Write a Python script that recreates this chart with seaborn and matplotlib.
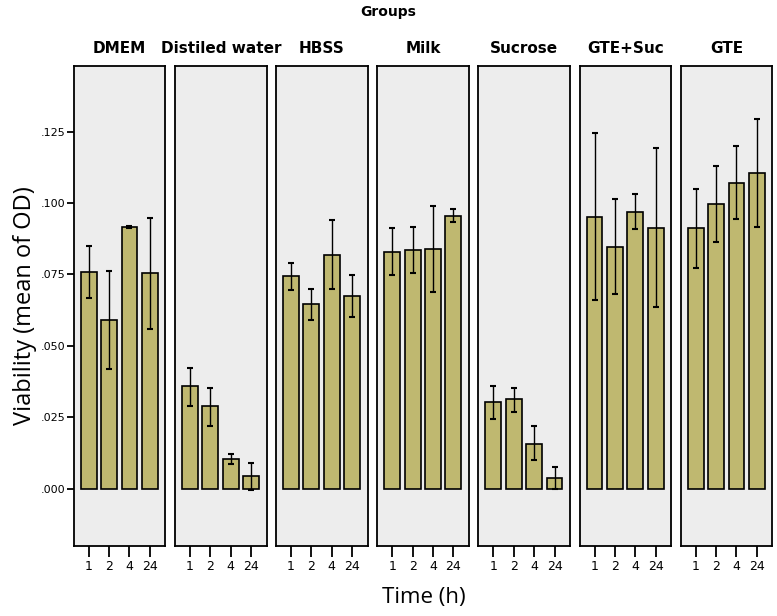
import matplotlib
matplotlib.use('Agg')
import matplotlib.pyplot as plt
import seaborn as sns
import pandas as pd
import numpy as np

# Values
groups = ['DMEM', 'Distiled water', 'HBSS', 'Milk', 'Sucrose', 'GTE+Suc', 'GTE']
times = ['1', '2', '4', '24']

means = {
    'DMEM':           [0.0760, 0.0591, 0.0915, 0.0754],
    'Distiled water': [0.0358, 0.0288, 0.0104, 0.0045],
    'HBSS':           [0.0743, 0.0647, 0.0818, 0.0675],
    'Milk':           [0.0830, 0.0836, 0.0839, 0.0956],
    'Sucrose':        [0.0302, 0.0314, 0.0157, 0.0037],
    'GTE+Suc':        [0.0952, 0.0846, 0.0969, 0.0911],
    'GTE':            [0.0913, 0.0995, 0.1071, 0.1105],
}
err_low = {
    'DMEM':           [0.0667, 0.0418, 0.0912, 0.0558],
    'Distiled water': [0.0290, 0.0220, 0.0087, -0.0003],
    'HBSS':           [0.0696, 0.0591, 0.0698, 0.0600],
    'Milk':           [0.0747, 0.0754, 0.0689, 0.0932],
    'Sucrose':        [0.0244, 0.0268, 0.0099, 0.0000],
    'GTE+Suc':        [0.0661, 0.0681, 0.0909, 0.0636],
    'GTE':            [0.0774, 0.0862, 0.0944, 0.0917],
}
err_high = {
    'DMEM':           [0.0850, 0.0763, 0.0920, 0.0947],
    'Distiled water': [0.0423, 0.0354, 0.0122, 0.0090],
    'HBSS':           [0.0789, 0.0700, 0.0940, 0.0747],
    'Milk':           [0.0911, 0.0917, 0.0990, 0.0979],
    'Sucrose':        [0.0358, 0.0352, 0.0218, 0.0076],
    'GTE+Suc':        [0.1244, 0.1013, 0.1030, 0.1191],
    'GTE':            [0.1050, 0.1129, 0.1199, 0.1293],
}

rows = []
for g in groups:
    for i, t in enumerate(times):
        rows.append({'Group': g, 'Time': t, 'Mean': means[g][i],
                     'Low': err_low[g][i], 'High': err_high[g][i]})
df = pd.DataFrame(rows)

sns.set_style('white')
plt.rcParams['font.family'] = ['DejaVu Sans']
plt.rcParams['text.color'] = 'black'
plt.rcParams['axes.labelcolor'] = 'black'
plt.rcParams['xtick.color'] = 'black'
plt.rcParams['ytick.color'] = 'black'

bar_color = '#bfb870'
panel_bg = '#ededed'

fig, axes = plt.subplots(1, len(groups), figsize=(7.77, 6.16), dpi=100, sharey=True)
fig.subplots_adjust(left=0.095, right=0.994, top=0.893, bottom=0.114, wspace=0.105)

for ax, g in zip(axes, groups):
    sub = df[df['Group'] == g]
    sns.barplot(data=sub, x='Time', y='Mean', order=times, color=bar_color,
                edgecolor='black', linewidth=1.2, width=0.78, errorbar=None,
                saturation=1, ax=ax)
    # error bars at the same categorical positions
    pos = np.arange(len(times))
    ax.errorbar(pos, sub['Mean'], yerr=[sub['Mean'] - sub['Low'], sub['High'] - sub['Mean']],
                fmt='none', ecolor='black', elinewidth=1.0, capsize=2.5, capthick=1.5)
    ax.set_facecolor(panel_bg)
    for s in ax.spines.values():
        s.set_visible(True)
        s.set_color('black')
        s.set_linewidth(1.3)
    ax.set_xlim(-0.73, 3.76)
    ax.set_ylim(-0.020, 0.148)
    ax.set_title(g, fontsize=11, fontweight='bold', pad=9)
    ax.set_xlabel('')
    ax.set_ylabel('')
    ax.tick_params(axis='x', bottom=True, length=8, width=1.3, labelsize=9, pad=2)
    ax.tick_params(axis='y', left=False)

axes[0].set_yticks([0.0, 0.025, 0.05, 0.075, 0.1, 0.125])
axes[0].set_yticklabels(['.000', '.025', '.050', '.075', '.100', '.125'])
axes[0].tick_params(axis='y', left=True, length=5, width=1.3, labelsize=8, pad=1)
axes[0].set_ylabel('Viability (mean of OD)', fontsize=17, family='Open Sans', labelpad=3)

fig.text(0.5, 0.98, 'Groups', ha='center', va='center', fontsize=10, fontweight='bold')
fig.text(0.545, 0.03, 'Time (h)', ha='center', va='center', fontsize=16, family='Open Sans')

fig.savefig('out.png', dpi=100)
